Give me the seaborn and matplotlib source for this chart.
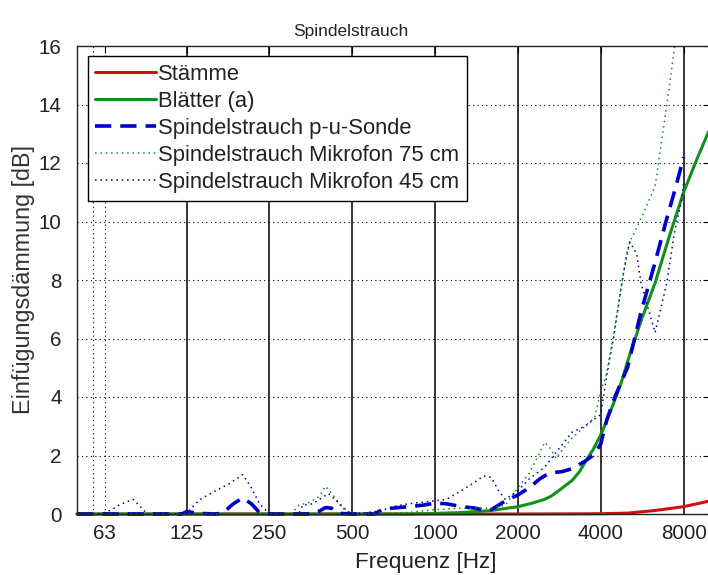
import numpy as np
import matplotlib as mpl
import matplotlib.pyplot as plt
import seaborn as sns

# Frequenzen (Hz) und Einfuegungsdaemmung (dB)
f_staemme = [50, 1000, 2000, 3150, 4000, 5000, 6300, 8000, 10000]
il_staemme = [0, 0, 0, 0.005, 0.01, 0.03, 0.12, 0.25, 0.45]

f_blaetter = [50, 800, 1000, 1250, 1600, 2000, 2250, 2500, 2650, 2800, 3000,
              3150, 3350, 3550, 3750, 4000, 4250, 4500, 4750, 5000, 5600,
              6300, 7100, 8000, 9000, 10000]
il_blaetter = [0, 0, 0.02, 0.05, 0.12, 0.25, 0.37, 0.5, 0.62, 0.78, 1.0,
               1.15, 1.45, 1.85, 2.2, 2.7, 3.3, 3.9, 4.5, 5.2, 6.6,
               7.9, 9.5, 11.0, 12.2, 13.2]

f_pu = [50, 120, 125, 140, 160, 170, 185, 200, 215, 230, 250, 350, 380, 400,
        420, 450, 500, 600, 640, 700, 800, 900, 1000, 1100, 1250, 1400, 1500,
        1600, 1700, 1800, 2000, 2200, 2400, 2600, 2900, 3150, 3500, 3800, 4000,
        4200, 4500, 5000, 5600, 6300, 6900, 7500, 8000]
il_pu = [0, 0, 0.08, 0.02, 0, 0.05, 0.35, 0.55, 0.35, 0.05, 0, 0, 0.1, 0.22,
         0.2, 0.02, 0, 0, 0.14, 0.2, 0.25, 0.3, 0.37, 0.35, 0.25, 0.2, 0.13,
         0.15, 0.3, 0.45, 0.65, 0.9, 1.2, 1.4, 1.45, 1.55, 1.8, 2.05, 2.4,
         3.2, 4.0, 5.0, 6.9, 8.6, 10.0, 11.2, 12.2]

f_mic75 = [50, 300, 320, 350, 380, 400, 430, 460, 500, 800, 1000, 1250, 1600,
           1800, 2000, 2200, 2400, 2500, 2600, 2750, 2900, 3150, 3500, 3800,
           4000, 4200, 4500, 4850, 5100, 5600, 6300, 7000, 7400, 7600]
il_mic75 = [0, 0, 0.3, 0.4, 0.6, 0.95, 0.6, 0.2, 0, 0.05, 0.15, 0.2, 0.2,
            0.3, 0.9, 1.4, 2.1, 2.45, 2.3, 1.9, 2.2, 2.6, 3.0, 3.3, 4.2, 4.8,
            6.4, 8.3, 9.3, 10.1, 11.2, 14.2, 15.9, 16.8]

f_mic45 = [50, 60, 63, 67, 71, 75, 80, 85, 90, 125, 130, 140, 160, 180, 200,
           215, 230, 250, 320, 330, 360, 380, 410, 450, 480, 500, 630, 700,
           800, 900, 1000, 1100, 1250, 1400, 1500, 1600, 1700, 1800, 2000,
           2200, 2500, 2800, 3150, 3500, 4000, 4200, 4450, 4700, 4850, 5000,
           5100, 5400, 5600, 6000, 6300, 6600, 6950, 7400, 7850, 8000]
il_mic45 = [0, 0, 0.05, 0.15, 0.3, 0.4, 0.5, 0.25, 0, 0, 0.2, 0.5, 0.8, 1.05,
            1.35, 0.9, 0.35, 0, 0, 0.3, 0.35, 0.5, 0.7, 0.35, 0.1, 0, 0.1,
            0.25, 0.35, 0.4, 0.45, 0.5, 0.8, 1.1, 1.3, 1.25, 0.8, 0.5, 0.8,
            1.2, 1.6, 2.2, 2.8, 3.0, 3.4, 4.7, 6.0, 7.5, 8.3, 9.0, 9.3, 8.9,
            7.9, 6.9, 6.2, 7.0, 7.9, 9.6, 10.7, 11.3]

xtick_vals = [63, 125, 250, 500, 1000, 2000, 4000, 8000]
xtick_labels = ['63', '125', '250', '500', '1000', '2000', '4000', '8000']

sns.set_style('white')
plt.rcParams['font.family'] = ['Liberation Sans', 'DejaVu Sans']

fig = plt.figure(figsize=(7.08, 5.75), dpi=100, facecolor='w')
ax = fig.add_axes([77 / 708, 61 / 575, 633.3 / 708, 468 / 575])
ax.set_xscale('log')

fs = 14.8
# Linien
sns.lineplot(x=f_staemme, y=il_staemme, ax=ax, color='#d01010', lw=2.2,
             label='Stämme', clip_on=False)
sns.lineplot(x=f_blaetter, y=il_blaetter, ax=ax, color='#12901a', lw=2.2,
             label='Blätter (a)', clip_on=False)
sns.lineplot(x=f_pu, y=il_pu, ax=ax, color='#0000c8', lw=2.6,
             linestyle=(0, (4.5, 2.5)), label='Spindelstrauch p-u-Sonde',
             clip_on=False)
sns.lineplot(x=f_mic75, y=il_mic75, ax=ax, color='#12901a', lw=1.1,
             linestyle=(0, (1, 2.5)), label='Spindelstrauch Mikrofon 75 cm')
sns.lineplot(x=f_mic45, y=il_mic45, ax=ax, color='#0000b0', lw=1.1,
             linestyle=(0, (1, 2.5)), label='Spindelstrauch Mikrofon 45 cm')

# Gitter
for fv in xtick_vals[1:]:
    ax.axvline(fv, color='k', lw=1.1, zorder=0.5)
for fv in [57, 63]:
    ax.axvline(fv, color='k', lw=0.8, ls=(0, (1, 3)), zorder=0.5)
for yv in range(2, 16, 2):
    ax.axhline(yv, color='k', lw=0.8, ls=(0, (1, 3)), zorder=0.5)

ax.set_xlim(50, 10000)
ax.set_ylim(0, 16)
ax.set_xticks(xtick_vals)
ax.set_xticklabels(xtick_labels)
ax.xaxis.set_minor_locator(mpl.ticker.NullLocator())
ax.set_yticks(range(0, 17, 2))
ax.tick_params(direction='in', length=5, width=0.8, labelsize=fs,
               top=True, right=True, colors='k', labelcolor='#222222')
ax.tick_params(axis='x', pad=7)
ax.tick_params(axis='y', pad=11)
for s in ax.spines.values():
    s.set_color('#222222')
    s.set_linewidth(1.0)

ax.set_xlabel('Frequenz [Hz]', fontsize=16.2, labelpad=7, x=0.55,
              color='#222222')
ax.set_ylabel('Einfügungsdämmung [dB]', fontsize=16.8, labelpad=3,
              color='#333333')
ax.set_title('Spindelstrauch', fontsize=12.5, pad=7, x=0.433, color='#222222')

leg = ax.legend(loc='upper left', bbox_to_anchor=(0.017, 0.979), fontsize=15.8,
                frameon=True, fancybox=False, handlelength=2.75,
                handletextpad=0.12, labelspacing=0.28, borderpad=0.35,
                borderaxespad=0)
leg.get_frame().set_edgecolor('k')
leg.get_frame().set_linewidth(1.0)
leg.get_frame().set_alpha(1)
for t in leg.get_texts():
    t.set_color('#222222')

plt.savefig('out.png', dpi=100)
